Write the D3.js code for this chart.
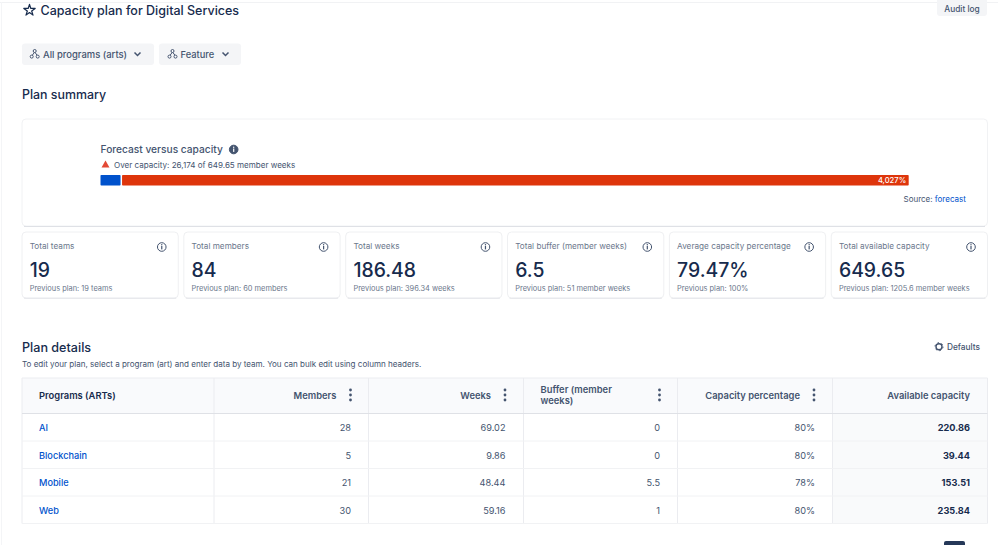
<!DOCTYPE html>
<html>
<head>
<meta charset="utf-8">
<script src="https://cdn.jsdelivr.net/npm/d3@7"></script>
<style>
  html, body { margin: 0; padding: 0; background: #fff; overflow: hidden; }
  svg { display: block; font-family: Inter, "Noto Sans", sans-serif; }
</style>
</head>
<body>
<svg id="chart" width="998" height="545"></svg>
<script>
// bar values
const capacity = 649.65;
const forecast = 26174;
const overLabel = "4,027%";

// summary cards
const cardTitles = ["Total teams", "Total members", "Total weeks", "Total buffer (member weeks)", "Average capacity percentage", "Total available capacity"];
const cardValues = ["19", "84", "186.48", "6.5", "79.47%", "649.65"];
const cardPrevious = ["Previous plan: 19 teams", "Previous plan: 60 members", "Previous plan: 396.34 weeks", "Previous plan: 51 member weeks", "Previous plan: 100%", "Previous plan: 1205.6 member weeks"];

// table
const programs = ["AI", "Blockchain", "Mobile", "Web"];
const members = [28, 5, 21, 30];
const weeks = [69.02, 9.86, 48.44, 59.16];
const buffer = [0, 0, 5.5, 1];
const capacityPct = ["80%", "80%", "78%", "80%"];
const available = [220.86, 39.44, 153.51, 235.84];

const navy = "#172b4d", slate = "#44546f", grey = "#6b778c", link = "#0052cc", line = "#ebecf0";
const svg = d3.select("#chart");

function text(g, x, y, str, size, color, opts) {
    opts = opts || {};
    return g.append("text").attr("x", x).attr("y", y).text(str)
        .attr("font-size", size).attr("fill", color)
        .attr("font-weight", opts.weight || 400)
        .attr("text-anchor", opts.anchor || "start");
}

function box(g, x, y, w, h, r, fill, stroke) {
    return g.append("rect").attr("x", x).attr("y", y).attr("width", w).attr("height", h)
        .attr("rx", r).attr("fill", fill).attr("stroke", stroke || "none");
}

// small info circle, outlined or filled
function info(g, cx, cy, filled) {
    g.append("circle").attr("cx", cx).attr("cy", cy).attr("r", 4.3)
        .attr("fill", filled ? slate : "none").attr("stroke", slate).attr("stroke-width", 1);
    g.append("rect").attr("x", cx - 0.6).attr("y", cy - 1).attr("width", 1.2).attr("height", 3.4).attr("fill", filled ? "#fff" : slate);
    g.append("circle").attr("cx", cx).attr("cy", cy - 2.3).attr("r", 0.7).attr("fill", filled ? "#fff" : slate);
}

function hierarchyIcon(g, cx, cy) {
    g.append("path").attr("d", `M${cx} ${cy - 2}L${cx - 3} ${cy + 2}M${cx} ${cy - 2}L${cx + 3} ${cy + 2}`)
        .attr("stroke", slate).attr("stroke-width", 1).attr("fill", "none");
    [[0, -3], [-3, 2.6], [3, 2.6]].forEach(p => {
        g.append("circle").attr("cx", cx + p[0]).attr("cy", cy + p[1]).attr("r", 1.5)
            .attr("fill", "#fff").attr("stroke", slate).attr("stroke-width", 1);
    });
}

function chevron(g, cx, cy) {
    g.append("path").attr("d", `M${cx - 3} ${cy - 1.5}L${cx} ${cy + 1.5}L${cx + 3} ${cy - 1.5}`)
        .attr("stroke", slate).attr("stroke-width", 1.5).attr("fill", "none");
}

function kebab(g, cx, cy) {
    [-5, 0, 5].forEach(d => g.append("circle").attr("cx", cx).attr("cy", cy + d).attr("r", 1.4).attr("fill", slate));
}

// page frame and header
const head = svg.append("g");
head.append("rect").attr("x", 0).attr("y", 2).attr("width", 998).attr("height", 1).attr("fill", "#f1f2f4");
head.append("rect").attr("x", 1).attr("y", 2).attr("width", 1).attr("height", 543).attr("fill", "#f4f5f7");

const star = d3.symbol().type(d3.symbolStar).size(40);
head.append("path").attr("d", star()).attr("transform", "translate(29.5,10.3)")
    .attr("fill", "none").attr("stroke", navy).attr("stroke-width", 1.2).attr("stroke-linejoin", "round");
text(head, 40.5, 15, "Capacity plan for Digital Services", 12.5, navy, { weight: 500 });

box(head, 937, -6, 50, 22, 3, "#f4f5f7");
text(head, 962, 11.5, "Audit log", 8.3, slate, { anchor: "middle", weight: 500 });

box(head, 22, 43.5, 132, 21.5, 3, "#f4f5f7");
hierarchyIcon(head, 34.7, 54);
text(head, 43, 57.5, "All programs (arts)", 9.45, slate, { weight: 500 });
chevron(head, 137.5, 54);
box(head, 159, 43.5, 82, 21.5, 3, "#f4f5f7");
hierarchyIcon(head, 172.5, 54);
text(head, 180.5, 57.5, "Feature", 9.3, slate, { weight: 500 });
chevron(head, 225.5, 54);

text(head, 22, 99, "Plan summary", 12.4, navy, { weight: 500 });

// forecast panel
const panel = svg.append("g");
box(panel, 22, 119, 965.5, 107, 4, "#fff", "#f1f2f4");
panel.append("path").attr("d", "M24 226.5H985").attr("stroke", "#dfe1e6").attr("stroke-width", 1);
text(panel, 100.5, 153, "Forecast versus capacity", 10.2, slate, { weight: 500 });
info(panel, 233.7, 149.5, true);
panel.append("path").attr("d", "M105.5 160.5L109.5 167.5H101.5Z").attr("fill", "#e34935");
text(panel, 114, 167.5, "Over capacity: 26,174 of 649.65 member weeks", 8.05, slate);

const barX = d3.scaleLinear().domain([0, forecast]).range([100.5, 908.7]);
const barSegs = [
    { from: 0, to: capacity, color: "#0052cc" },
    { from: capacity, to: forecast, color: "#de350b" }
];
panel.selectAll("rect.seg").data(barSegs).join("rect").attr("class", "seg")
    .attr("x", (d, i) => barX(d.from) + (i ? 1.5 : 0))
    .attr("width", (d, i) => barX(d.to) - barX(d.from) - (i ? 1.5 : 0))
    .attr("y", 175).attr("height", 10.5).attr("rx", 0.8).attr("fill", d => d.color);
text(panel, barX(forecast) - 2.5, 183.3, overLabel, 7.6, "#fff", { anchor: "end", weight: 500 });

const src = text(panel, 903.5, 202, "Source: ", 8, slate);
src.append("tspan").attr("fill", link).text("forecast");

// summary cards
const cardX = d3.scaleBand().domain(d3.range(cardTitles.length)).range([22, 987.5]).paddingInner(0.0345);
const cards = svg.selectAll("g.card").data(cardTitles).join("g").attr("class", "card")
    .attr("transform", (d, i) => `translate(${cardX(i)},232)`);
cards.each(function(d, i) {
    const g = d3.select(this), w = cardX.bandwidth();
    box(g, 0, 0, w, 66, 4, "#fff", "#eff0f2");
    g.append("path").attr("d", `M2 66.3H${w - 2}`).attr("stroke", "#dfe1e6").attr("stroke-width", 0.8);
    text(g, 7.7, 17, d, 8.2, grey);
    info(g, w - 16.5, 15, false);
    text(g, 7.7, 44.7, cardValues[i], 19.4, navy, { weight: 500 });
    text(g, 7.7, 58.5, cardPrevious[i], 7.45, grey);
});

// plan details
const details = svg.append("g");
text(details, 22, 351.5, "Plan details", 12.6, navy, { weight: 500 });
text(details, 22, 367, "To edit your plan, select a program (art) and enter data by team. You can bulk edit using column headers.", 8.06, slate);
details.append("circle").attr("cx", 939).attr("cy", 346.7).attr("r", 3)
    .attr("fill", "none").attr("stroke", slate).attr("stroke-width", 1.4);
details.append("circle").attr("cx", 939).attr("cy", 346.7).attr("r", 4)
    .attr("fill", "none").attr("stroke", slate).attr("stroke-width", 1).attr("stroke-dasharray", "1.6 2.6");
text(details, 947, 350, "Defaults", 8.3, slate, { weight: 500 });

// table
const colEdges = [22, 214, 368.5, 523.5, 677.5, 832.5, 987.5];
const tableTop = 378, headBottom = 413.5, tableBottom = 523.5;
const rowY = d3.scaleBand().domain(programs).range([headBottom, tableBottom]);

const table = svg.append("g");
box(table, colEdges[0], tableTop, colEdges[6] - colEdges[0], tableBottom - tableTop, 2, "#fff");
box(table, colEdges[0], tableTop, colEdges[6] - colEdges[0], headBottom - tableTop, 2, "#f9fafc");
box(table, colEdges[5], headBottom, colEdges[6] - colEdges[5], tableBottom - headBottom, 0, "#f9fafb");

table.selectAll("line.col").data(colEdges).join("line").attr("class", "col")
    .attr("x1", d => d).attr("x2", d => d).attr("y1", tableTop).attr("y2", tableBottom)
    .attr("stroke", line);
table.selectAll("line.row").data(programs).join("line").attr("class", "row")
    .attr("x1", colEdges[0]).attr("x2", colEdges[6])
    .attr("y1", d => rowY(d) + rowY.bandwidth()).attr("y2", d => rowY(d) + rowY.bandwidth())
    .attr("stroke", "#f1f2f4");
table.append("line").attr("x1", colEdges[0]).attr("x2", colEdges[6]).attr("y1", tableTop).attr("y2", tableTop).attr("stroke", line);
table.append("line").attr("x1", colEdges[0]).attr("x2", colEdges[6]).attr("y1", headBottom).attr("y2", headBottom).attr("stroke", "#dfe1e6").attr("stroke-width", 1.2);

const headY = 398.5;
const headSize = 9.4;
text(table, 39, headY, "Programs (ARTs)", headSize, navy, { weight: 600 });
text(table, 336.5, headY, "Members", headSize, slate, { anchor: "end", weight: 600 });
kebab(table, 350.5, 395);
text(table, 491, headY, "Weeks", headSize, slate, { anchor: "end", weight: 600 });
kebab(table, 505, 395);
text(table, 540.5, 393, "Buffer (member", headSize, slate, { weight: 600 });
text(table, 540.5, 403.5, "weeks)", headSize, slate, { weight: 600 });
kebab(table, 659.5, 395);
text(table, 800, headY, "Capacity percentage", headSize, slate, { anchor: "end", weight: 600 });
kebab(table, 814, 395);
text(table, 970, headY, "Available capacity", headSize, slate, { anchor: "end", weight: 600 });

const rightCols = [
    { values: members, right: 351 },
    { values: weeks, right: 505.5 },
    { values: buffer, right: 660 },
    { values: capacityPct, right: 815 }
];
programs.forEach((p, i) => {
    const y = rowY(p) + rowY.bandwidth() / 2 + 3.8;
    text(table, 39, y, p, 9.2, link, { weight: 500 });
    rightCols.forEach(c => text(table, c.right, y, c.values[i], 9.2, slate, { anchor: "end" }));
    text(table, 970, y, available[i], 9.2, navy, { anchor: "end", weight: 700 });
});

// bottom edge of page: cropped pager
box(svg, 944, 541, 21, 10, 2, "#253858");
</script>
</body>
</html>
